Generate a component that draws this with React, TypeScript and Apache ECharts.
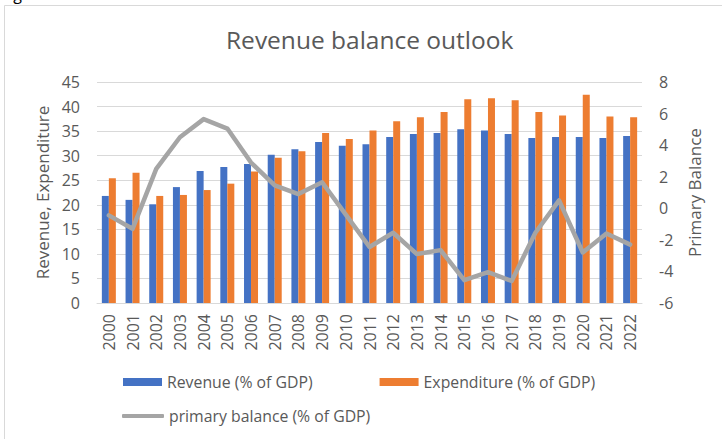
import React, { useEffect, useRef } from "react";
import * as echarts from "echarts";

const years = ["2000","2001","2002","2003","2004","2005","2006","2007","2008","2009","2010","2011","2012","2013","2014","2015","2016","2017","2018","2019","2020","2021","2022"];
const revenue = [21.8, 21.0, 20.1, 23.6, 26.9, 27.7, 28.3, 30.2, 31.3, 32.8, 32.0, 32.3, 33.8, 34.4, 34.6, 35.4, 35.1, 34.4, 33.6, 33.8, 33.8, 33.6, 34.0];
const expenditure = [25.4, 26.5, 21.8, 22.0, 23.0, 24.3, 26.8, 29.6, 30.9, 34.6, 33.4, 35.1, 37.0, 37.8, 38.9, 41.5, 41.7, 41.3, 38.9, 38.2, 42.4, 38.0, 37.8];
const primaryBalance = [-0.45, -1.3, 2.5, 4.5, 5.65, 5.05, 2.9, 1.45, 0.9, 1.65, -0.4, -2.45, -1.55, -2.9, -2.65, -4.55, -4.05, -4.6, -1.55, 0.5, -2.8, -1.6, -2.3];

const FONT = "'Open Sans', 'Noto Sans', sans-serif";
const GREY = "#595959";

export default function App() {
  const ref = useRef<HTMLDivElement>(null);
  useEffect(() => {
    const chart = echarts.init(ref.current!, null, { renderer: "svg" });
    chart.setOption({
      animation: false,
      backgroundColor: "#ffffff",
      textStyle: { fontFamily: FONT },
      title: {
        text: "Revenue balance outlook",
        left: 226,
        top: 24,
        padding: 0,
        textStyle: { fontFamily: FONT, fontSize: 24.5, lineHeight: 30, fontWeight: "normal", color: GREY },
      },
      graphic: [
        { type: "rect", shape: { x: 4.5, y: 5.5, width: 800, height: 500 }, style: { fill: "none", stroke: "#D9D9D9", lineWidth: 1 } },
        { type: "text", x: 1, y: -14, style: { text: "Fig 1", font: "16px " + FONT, fill: "#000" } },
      ],
      legend: [
        {
          data: ["Revenue (% of GDP)", "Expenditure (% of GDP)"],
          left: 123,
          top: 373,
          padding: 0,
          itemWidth: 39,
          itemHeight: 8,
          itemGap: 67,
          icon: "rect",
          textStyle: { fontFamily: FONT, fontSize: 15.8, lineHeight: 18, color: GREY },
        },
        {
          data: [{ name: "primary balance (% of GDP)", icon: "roundRect" }],
          left: 122,
          top: 407,
          padding: 0,
          itemWidth: 42,
          itemHeight: 4,
          textStyle: { fontFamily: FONT, fontSize: 15.8, lineHeight: 18, color: GREY },
        },
      ],
      grid: { left: 97, right: 80, top: 82, bottom: 136, containLabel: false },
      xAxis: {
        type: "category",
        data: years,
        axisLine: { lineStyle: { color: "#D9D9D9" } },
        axisTick: { show: false },
        axisLabel: { rotate: 90, fontSize: 16, color: GREY, fontFamily: FONT, margin: 11, interval: 0 },
      },
      yAxis: [
        {
          type: "value",
          min: 0,
          max: 45,
          interval: 5,
          name: "Revenue, Expenditure",
          nameLocation: "middle",
          nameGap: 44,
          nameTextStyle: { fontFamily: FONT, fontSize: 17, color: GREY },
          axisLabel: { fontSize: 16, color: GREY, fontFamily: FONT, margin: 17 },
          axisLine: { show: false },
          axisTick: { show: false },
          splitLine: { lineStyle: { color: "#D9D9D9", width: 1 } },
        },
        {
          type: "value",
          min: -6,
          max: 8,
          interval: 2,
          name: "Primary Balance",
          nameLocation: "middle",
          nameGap: 44,
          nameRotate: 90,
          nameTextStyle: { fontFamily: FONT, fontSize: 17, color: GREY },
          axisLabel: { fontSize: 16, color: GREY, fontFamily: FONT, margin: 17 },
          axisLine: { show: false },
          axisTick: { show: false },
          splitLine: { show: false },
        },
      ],
      series: [
        {
          name: "Revenue (% of GDP)",
          type: "bar",
          data: revenue,
          barWidth: 7,
          barGap: "0%",
          itemStyle: { color: "#4472C4" },
        },
        {
          name: "Expenditure (% of GDP)",
          type: "bar",
          data: expenditure,
          barWidth: 7,
          barGap: "0%",
          itemStyle: { color: "#ED7D31" },
        },
        {
          name: "primary balance (% of GDP)",
          type: "line",
          yAxisIndex: 1,
          data: primaryBalance,
          symbol: "none",
          z: 5,
          itemStyle: { color: "#A5A5A5" },
          lineStyle: { color: "#A5A5A5", width: 4.5, cap: "round", join: "round" },
        },
      ],
    });
    return () => chart.dispose();
  }, []);
  return <div ref={ref} style={{ position: "fixed", left: 0, top: 0, width: 722, height: 439 }} />;
}
